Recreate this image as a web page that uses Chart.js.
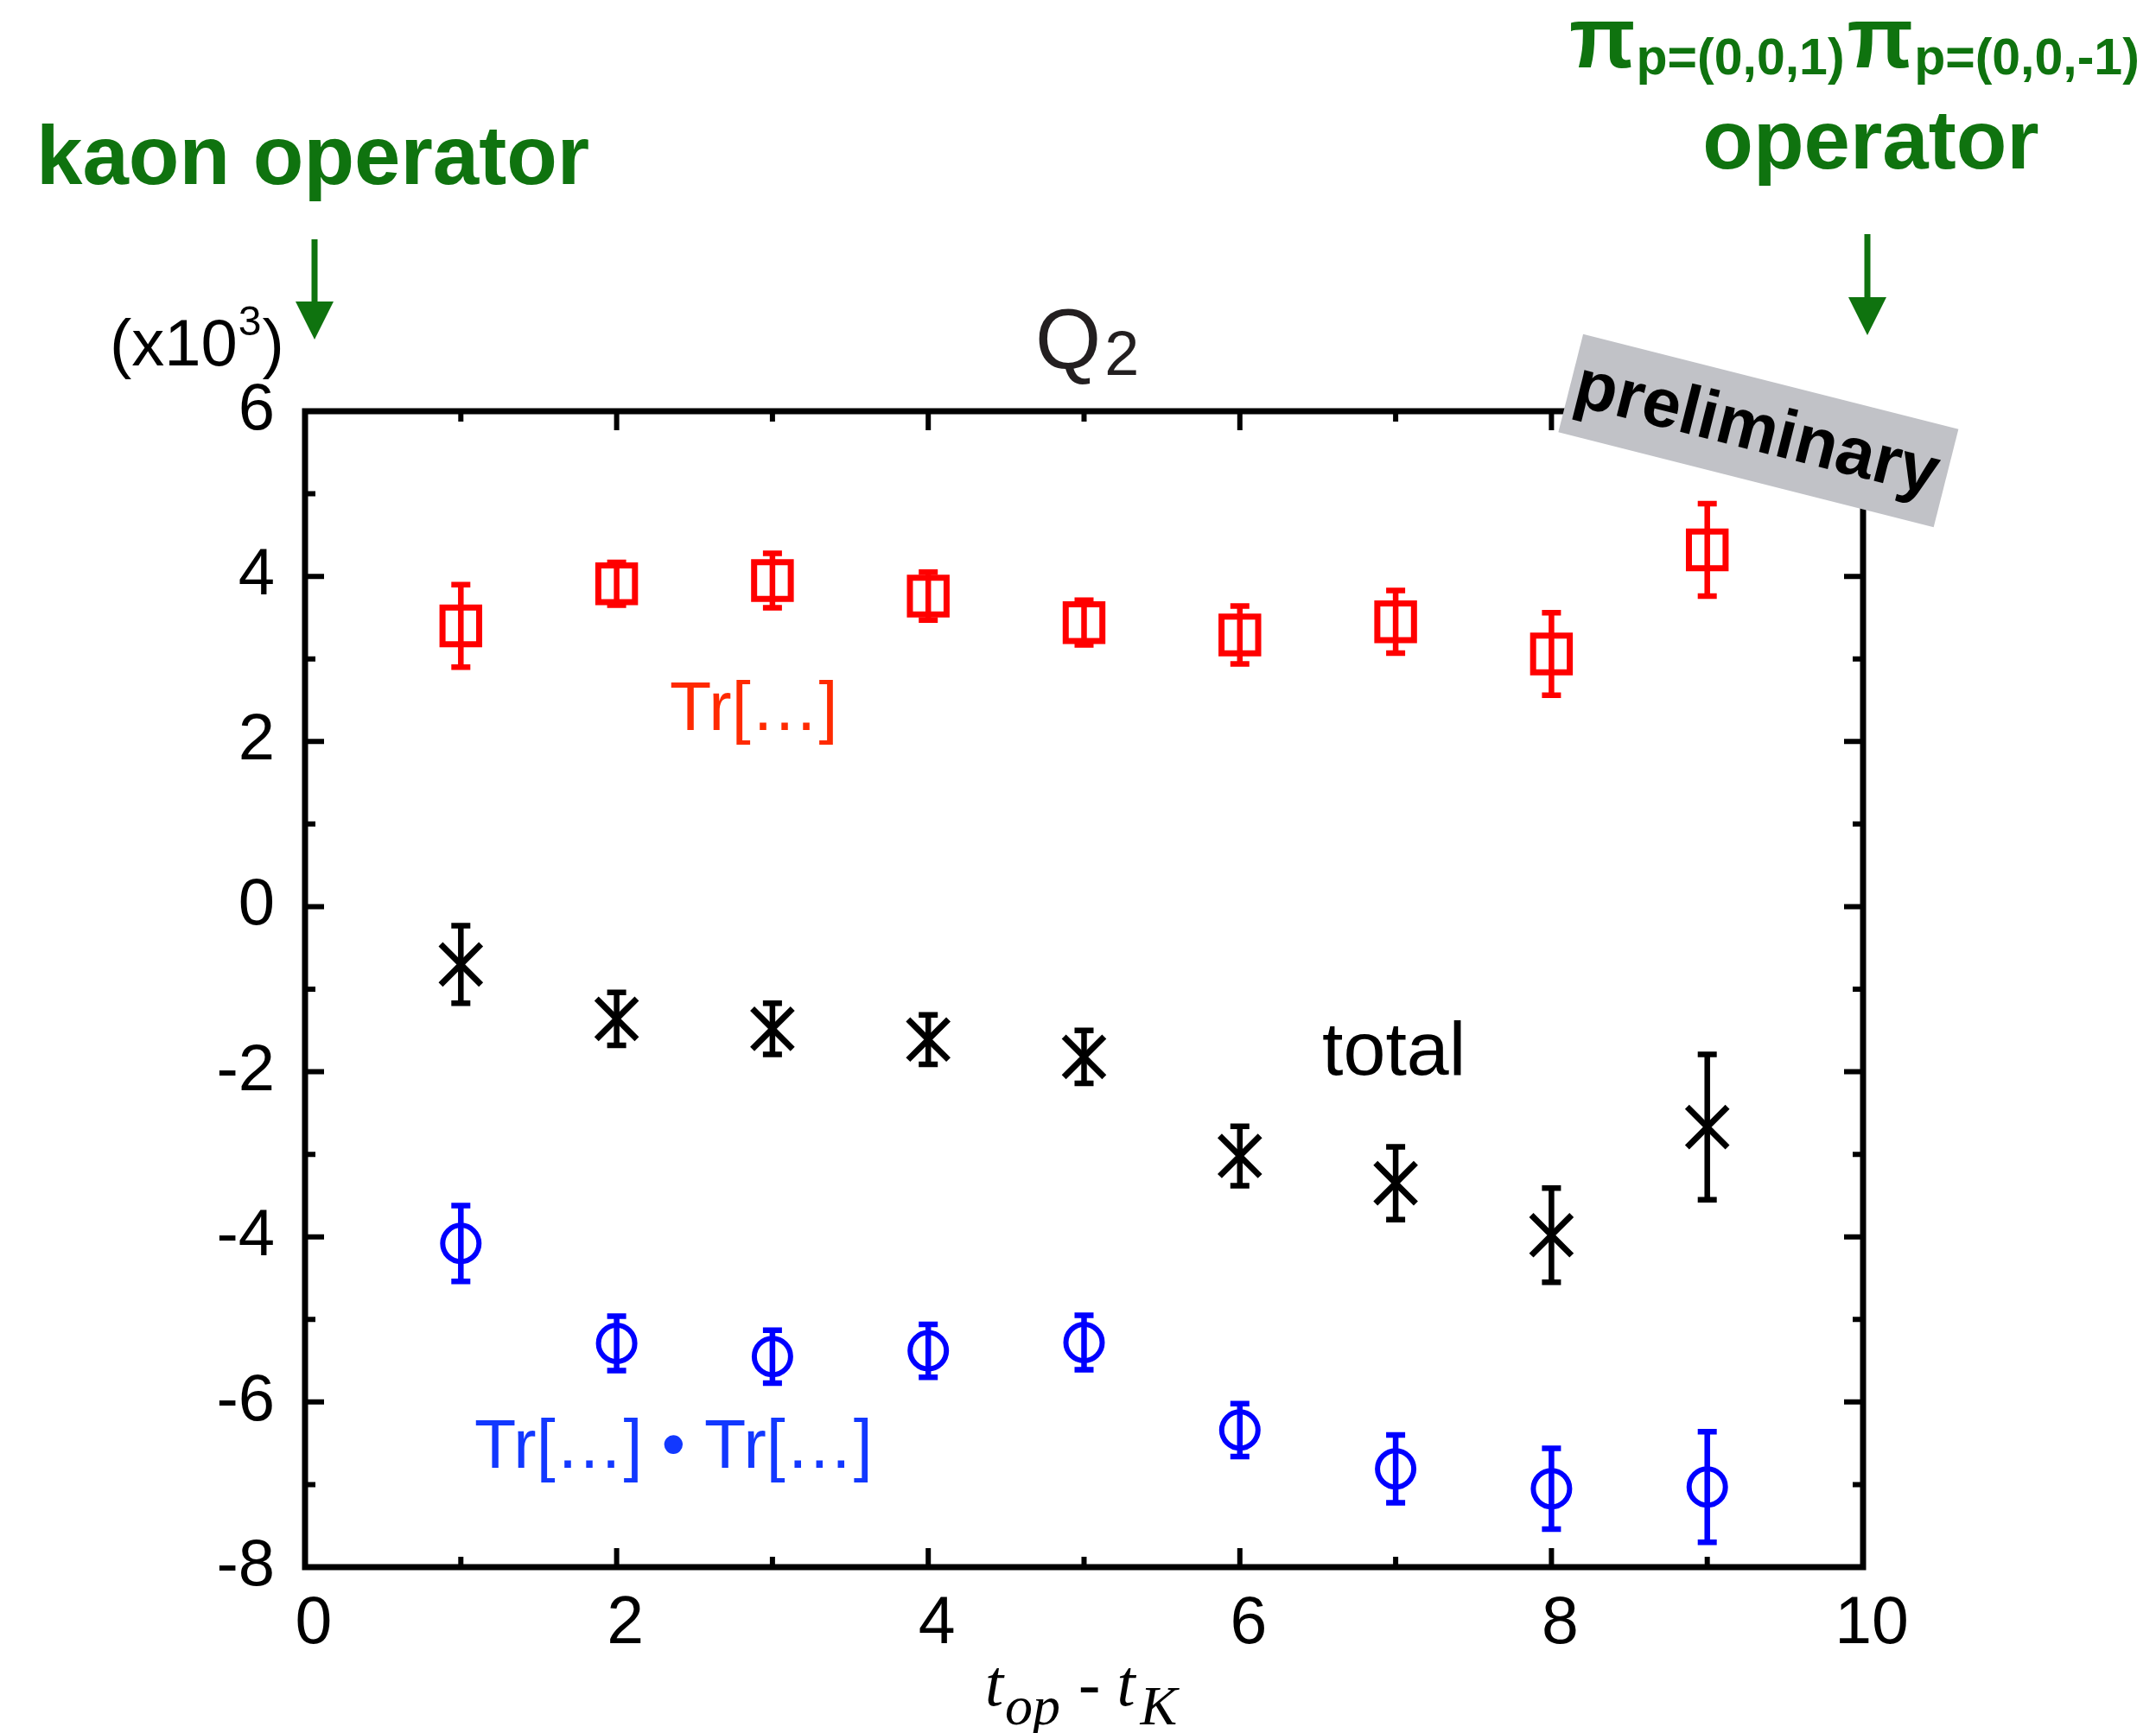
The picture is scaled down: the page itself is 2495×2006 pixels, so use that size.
<!DOCTYPE html>
<html>
<head>
<meta charset="utf-8">
<script src="https://cdn.jsdelivr.net/npm/chart.js@4.4.1/dist/chart.umd.min.js"></script>
<style>
  html, body { margin: 0; padding: 0; background: #fff; overflow: hidden; }
  #wrap { width: 2495px; height: 2006px; }
</style>
</head>
<body>
<div id="wrap"><canvas id="q2Chart" width="2495" height="2006"></canvas></div>
<script>
// time separation t_op - t_K
const tSep = [1, 2, 3, 4, 5, 6, 7, 8, 9];

// Tr[...] contribution (x10^3)
const trValues = [3.40, 3.91, 3.95, 3.76, 3.44, 3.29, 3.45, 3.06, 4.32];
const trErrors = [0.50, 0.26, 0.33, 0.29, 0.27, 0.35, 0.38, 0.50, 0.56];

// total (x10^3)
const totalValues = [-0.70, -1.36, -1.48, -1.61, -1.82, -3.02, -3.35, -3.98, -2.67];
const totalErrors = [0.47, 0.32, 0.31, 0.30, 0.32, 0.36, 0.44, 0.57, 0.88];

// Tr[...] . Tr[...] contribution (x10^3)
const trTrValues = [-4.08, -5.29, -5.45, -5.38, -5.28, -6.34, -6.81, -7.05, -7.03];
const trTrErrors = [0.46, 0.33, 0.32, 0.32, 0.33, 0.32, 0.41, 0.49, 0.67];

const xTickLabels = ['0', '2', '4', '6', '8', '10'];
const yTickLabels = ['-8', '-6', '-4', '-2', '0', '2', '4', '6'];

const GREEN = '#0f730f';

function points(values) {
    return tSep.map((t, i) => ({ x: t, y: values[i] }));
}

function tickLabel(list) {
    return function (value) {
        const hit = list.find(l => Number(l) === value);
        return hit === undefined ? '' : hit;
    };
}

// vertical error bars with caps, placed through the chart scales
const errorBars = {
    id: 'errorBars',
    afterDatasetsDraw(chart) {
        const { ctx, scales: { x, y } } = chart;
        chart.data.datasets.forEach(ds => {
            ctx.save();
            ctx.strokeStyle = ds.borderColor;
            ctx.lineWidth = 6.5;
            ds.data.forEach((pt, i) => {
                const px = x.getPixelForValue(pt.x);
                const top = y.getPixelForValue(pt.y + ds.errors[i]);
                const bot = y.getPixelForValue(pt.y - ds.errors[i]);
                ctx.beginPath();
                ctx.moveTo(px, top); ctx.lineTo(px, bot);
                ctx.moveTo(px - 11, top); ctx.lineTo(px + 11, top);
                ctx.moveTo(px - 11, bot); ctx.lineTo(px + 11, bot);
                ctx.stroke();
            });
            ctx.restore();
        });
    }
};

// box frame with inward ticks on all four sides
const frame = {
    id: 'frame',
    afterDatasetsDraw(chart) {
        const { ctx, chartArea: a, scales: { x, y } } = chart;
        ctx.save();
        ctx.strokeStyle = '#000';
        ctx.lineWidth = 6;
        ctx.beginPath();
        for (let v = Math.ceil(x.min); v <= x.max; v++) {
            const px = x.getPixelForValue(v);
            const len = v % 2 === 0 ? 22 : 12;
            ctx.moveTo(px, a.bottom); ctx.lineTo(px, a.bottom - len);
            ctx.moveTo(px, a.top); ctx.lineTo(px, a.top + len);
        }
        for (let v = Math.ceil(y.min); v <= y.max; v++) {
            const py = y.getPixelForValue(v);
            const len = v % 2 === 0 ? 22 : 12;
            ctx.moveTo(a.left, py); ctx.lineTo(a.left + len, py);
            ctx.moveTo(a.right, py); ctx.lineTo(a.right - len, py);
        }
        ctx.stroke();
        ctx.lineWidth = 7;
        ctx.strokeRect(a.left, a.top, a.right - a.left, a.bottom - a.top);
        ctx.restore();
    }
};

function put(ctx, s, x, y, font, color, align) {
    ctx.font = font;
    ctx.fillStyle = color;
    ctx.textAlign = align || 'left';
    ctx.fillText(s, x, y);
    return ctx.measureText(s).width;
}

function arrow(ctx, x, y0, y1, tip) {
    ctx.strokeStyle = GREEN;
    ctx.fillStyle = GREEN;
    ctx.lineWidth = 7;
    ctx.beginPath();
    ctx.moveTo(x, y0); ctx.lineTo(x, y1 + 2);
    ctx.stroke();
    ctx.beginPath();
    ctx.moveTo(x - 22, y1); ctx.lineTo(x + 22, y1); ctx.lineTo(x, tip);
    ctx.closePath();
    ctx.fill();
}

// titles, labels, operators and the "preliminary" stamp
const annotations = {
    id: 'annotations',
    afterDraw(chart) {
        const ctx = chart.ctx;
        ctx.save();
        ctx.textBaseline = 'alphabetic';

        // Q_2 title
        let w = put(ctx, 'Q', 1198, 426, '98px "Liberation Sans"', '#231f20');
        put(ctx, '2', 1198 + w + 4, 434, '72px "Liberation Sans"', '#231f20');

        // (x10^3)
        w = put(ctx, '(x10', 127, 423, '76px "Liberation Sans"', '#000');
        const w3 = put(ctx, '3', 127 + w + 1, 388, '48px "Liberation Sans"', '#000');
        put(ctx, ')', 127 + w + w3 + 2, 423, '76px "Liberation Sans"', '#000');

        // x axis title  t_op - t_K
        const it = 'italic 76px "Liberation Serif"';
        const sub = 'italic 64px "Liberation Serif"';
        let cx = 1140;
        cx += put(ctx, 't', cx, 1974, it, '#000');
        cx += put(ctx, 'op', cx + 2, 1996, sub, '#000') + 4;
        cx += put(ctx, ' - ', cx, 1974, '76px "Liberation Serif"', '#000');
        cx += put(ctx, 't', cx, 1974, it, '#000');
        put(ctx, 'K', cx + 6, 1996, sub, '#000');

        // series labels
        put(ctx, 'Tr[\u2026]', 775, 845, '79px "Liberation Sans"', '#ff2a00');
        put(ctx, 'total', 1530, 1244, '88px "Liberation Sans"', '#000');
        put(ctx, 'Tr[\u2026] \u2022 Tr[\u2026]', 549, 1699, '79px "Liberation Sans"', '#1238ff');

        // operator annotations
        put(ctx, 'kaon operator', 42, 213, 'bold 96px "Liberation Sans"', GREEN);
        put(ctx, 'operator', 2165, 195, 'bold 96px "Liberation Sans"', GREEN, 'center');
        const big = 'bold 100px "Liberation Sans"';
        const small = 'bold 59px "Liberation Sans"';
        cx = 1816;
        cx += put(ctx, '\u03c0', cx, 78, big, GREEN) + 1;
        cx += put(ctx, 'p=(0,0,1)', cx, 86, small, GREEN) + 3;
        cx += put(ctx, '\u03c0', cx, 78, big, GREEN) + 1;
        put(ctx, 'p=(0,0,-1)', cx, 86, small, GREEN);

        arrow(ctx, 364, 277, 349, 393);
        arrow(ctx, 2161, 271, 344, 388);

        // preliminary stamp
        ctx.translate(2035, 498);
        ctx.rotate(14.2 * Math.PI / 180);
        ctx.fillStyle = '#c1c2c7';
        ctx.fillRect(-224, -58, 448, 117);
        ctx.textBaseline = 'middle';
        put(ctx, 'preliminary', -2, 2, 'bold 80px "Liberation Sans"', '#000', 'center');
        ctx.restore();
    }
};

Chart.defaults.font.family = '"Liberation Sans", Arial, sans-serif';

const ctx = document.getElementById('q2Chart').getContext('2d');
const q2Chart = new Chart(ctx, {
    type: 'scatter',
    data: {
        datasets: [{
            label: 'Tr[\u2026]',
            data: points(trValues),
            errors: trErrors,
            pointStyle: 'rect',
            pointRadius: 30,
            borderColor: '#ff0000',
            backgroundColor: 'rgba(0,0,0,0)',
            borderWidth: 7,
            pointBorderWidth: 7
        }, {
            label: 'total',
            data: points(totalValues),
            errors: totalErrors,
            pointStyle: 'crossRot',
            pointRadius: 33,
            borderColor: '#000000',
            backgroundColor: 'rgba(0,0,0,0)',
            borderWidth: 7,
            pointBorderWidth: 7
        }, {
            label: 'Tr[\u2026] \u2022 Tr[\u2026]',
            data: points(trTrValues),
            errors: trTrErrors,
            pointStyle: 'circle',
            pointRadius: 21,
            borderColor: '#0000ff',
            backgroundColor: 'rgba(0,0,0,0)',
            borderWidth: 6,
            pointBorderWidth: 6
        }]
    },
    options: {
        responsive: false,
        animation: false,
        events: [],
        layout: { padding: { left: 0, right: 339, top: 476, bottom: 0 } },
        plugins: {
            legend: { display: false },
            tooltip: { enabled: false }
        },
        scales: {
            x: {
                type: 'linear',
                min: 0,
                max: 10,
                grid: { display: false, drawTicks: false },
                border: { display: false },
                ticks: {
                    stepSize: 2,
                    autoSkip: false,
                    maxRotation: 0,
                    padding: 21,
                    labelOffset: 10,
                    color: '#000',
                    font: { size: 77 },
                    callback: tickLabel(xTickLabels)
                },
                afterFit(scale) { scale.height = 192; }
            },
            y: {
                type: 'linear',
                min: -8,
                max: 6,
                grid: { display: false, drawTicks: false },
                border: { display: false },
                ticks: {
                    stepSize: 2,
                    padding: 35,
                    color: '#000',
                    font: { size: 76 },
                    callback: tickLabel(yTickLabels)
                },
                afterFit(scale) { scale.width = 353; }
            }
        }
    },
    plugins: [errorBars, frame, annotations]
});
</script>
</body>
</html>
